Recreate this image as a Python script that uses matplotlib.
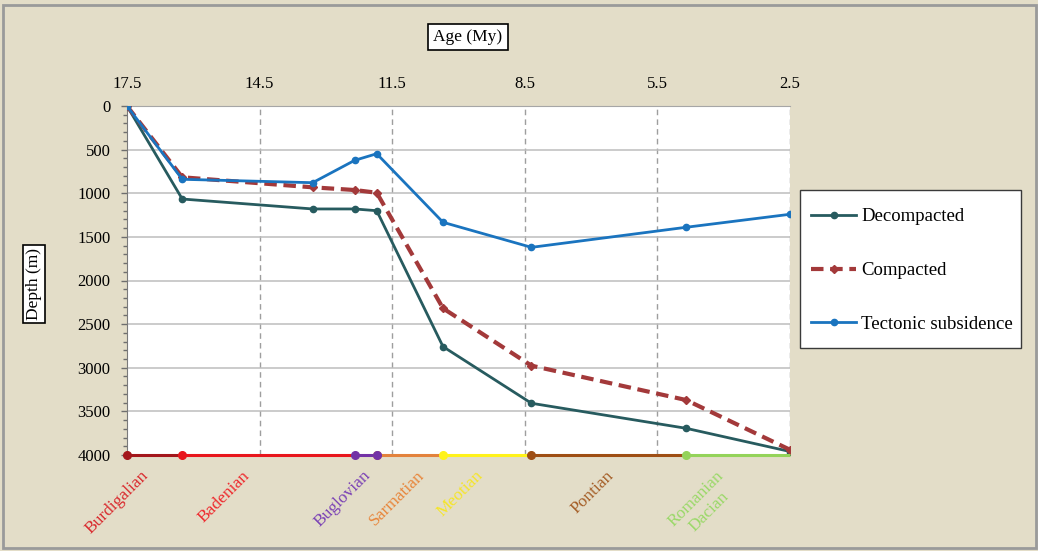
import matplotlib
matplotlib.use("Agg")
import matplotlib.pyplot as plt
from matplotlib.patches import Rectangle
from matplotlib.ticker import MultipleLocator

plt.rcParams['font.family'] = ['Liberation Serif', 'DejaVu Serif']

# Ages (My) of the sampled horizons and burial depths (m)
ages = [17.5, 16.25, 13.3, 12.35, 11.85, 10.35, 8.35, 4.85, 2.5]
decompacted = [0, 1066, 1180, 1180, 1200, 2758, 3407, 3694, 3960]
compacted = [0, 817, 932, 963, 994, 2319, 2976, 3370, 3940]
tectonic = [0, 840, 879, 623, 547, 1333, 1620, 1390, 1241]

# Stratigraphic stages along the base of the chart
stage_names = ["Burdigalian", "Badenian", "Buglovian", "Sarmatian",
               "Meotian", "Pontian", "Romanian\nDacian"]
stage_bounds = [17.5, 16.25, 12.35, 11.85, 10.35, 8.35, 4.85, 2.5]
stage_colors = ["#A3161B", "#E8161C", "#7332A6", "#E3823C",
                "#FFF21A", "#9E4E14", "#94D35A"]
label_colors = ["#D92A2E", "#EE2A2E", "#7B42B5", "#E8853A",
                "#F5E52A", "#A55F28", "#9AD868"]
label_x = [16.93, 14.65, 11.91, 10.69, 9.36, 6.41, 3.63]

age_ticks = [17.5, 14.5, 11.5, 8.5, 5.5, 2.5]

W, H = 1038, 551
fig = plt.figure(figsize=(W / 100, H / 100), dpi=100)
fig.patch.set_facecolor("#E3DDC8")
fig.patches.append(Rectangle((3 / W, 3 / H), 1 - 5 / W, 1 - 7.5 / H,
                             transform=fig.transFigure, fill=False,
                             edgecolor="#9A9A9A", linewidth=2, zorder=-2))
# legend box
fig.patches.append(Rectangle((800 / W, 1 - 348 / H), 221 / W, 158 / H,
                             transform=fig.transFigure, facecolor="white",
                             edgecolor="#3A3A3A", linewidth=1.0, zorder=-1))

ax = fig.add_axes([127 / W, 1 - 455 / H, (790 - 127) / W, (455 - 106) / H])
ax.set_facecolor("white")
ax.set_xlim(17.5, 2.5)
ax.set_ylim(4000, 0)

# axes decoration
ax.xaxis.tick_top()
ax.set_xticks(age_ticks)
ax.set_xticklabels([f"{a:.1f}" for a in age_ticks], fontsize=12)
ax.tick_params(axis="x", length=0, pad=10)
ax.yaxis.set_major_locator(MultipleLocator(500))
ax.yaxis.set_minor_locator(MultipleLocator(100))
ax.tick_params(axis="y", which="major", length=4, width=1, color="#6E6E6E",
               labelsize=12, pad=8)
ax.tick_params(axis="y", which="minor", length=3, width=1, color="#6E6E6E")

for s in ["right", "bottom"]:
    ax.spines[s].set_visible(False)
ax.spines["top"].set_color("#A6A6A6")
ax.spines["left"].set_color("#7A7A7A")

ax.grid(axis="y", which="major", color="#BDBDBD", linewidth=1.1)
for a in age_ticks[1:]:
    ax.axvline(a, color="#9E9E9E", linestyle=(0, (4, 3)), linewidth=1.0,
               zorder=0.5)

# burial curves
ax.plot(ages, decompacted, color="#275B5F", linewidth=2.0, marker="o",
        markersize=4.5, label="Decompacted", zorder=3)
ax.plot(ages, compacted, color="#A3393A", linewidth=3.0,
        linestyle=(0, (3, 1.6)), marker="D", markersize=4,
        label="Compacted", zorder=3)
ax.plot(ages, tectonic, color="#1A74BF", linewidth=2.0, marker="o",
        markersize=4.5, label="Tectonic subsidence", zorder=3)

# stage bar at the base
for i, (name, col) in enumerate(zip(stage_names, stage_colors)):
    x0, x1 = stage_bounds[i], stage_bounds[i + 1]
    ax.plot([x0, x1], [4000, 4000], color=col, linewidth=2.2,
            clip_on=False, zorder=4, solid_capstyle="butt")
for i, col in enumerate(stage_colors):
    ax.plot(stage_bounds[i], 4000, "o", color=col, markersize=5.5,
            clip_on=False, zorder=5)
ax.plot(stage_bounds[3], 4000, "o", color=stage_colors[2], markersize=5.5,
        clip_on=False, zorder=5)

for name, lx, col in zip(stage_names, label_x, label_colors):
    ax.annotate(name, xy=(lx, 4000), xytext=(0, -9),
                textcoords="offset points", rotation=45, ha="right",
                va="top", color=col, fontsize=12.5, annotation_clip=False,
                multialignment="center")

leg = ax.legend(loc="upper left", bbox_to_anchor=(800 / W, 1 - 197 / H),
                bbox_transform=fig.transFigure, fontsize=13.5,
                frameon=False, handlelength=2.4, handletextpad=0.27,
                labelspacing=1.95, borderpad=0.6, borderaxespad=0)

fig.text(468 / W, 1 - 37 / H, "Age (My)", ha="center", va="center",
         fontsize=12.5,
         bbox=dict(boxstyle="square,pad=0.3", facecolor="white",
                   edgecolor="black", linewidth=1.2))
fig.text(34 / W, 1 - 284 / H, "Depth (m)", ha="center", va="center",
         rotation=90, fontsize=12.5,
         bbox=dict(boxstyle="square,pad=0.2", facecolor="white",
                   edgecolor="black", linewidth=1.2))

fig.savefig("out.png", dpi=100, facecolor=fig.get_facecolor())
